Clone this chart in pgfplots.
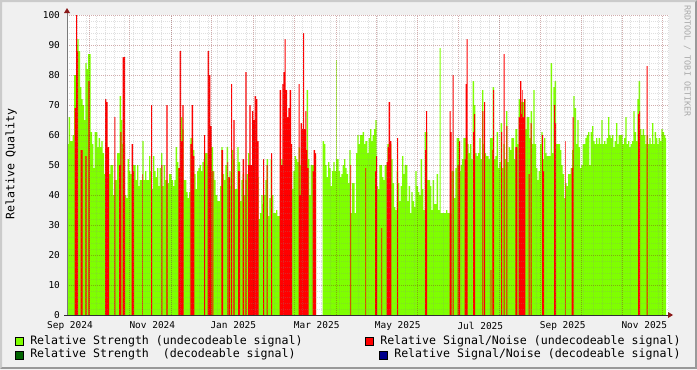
\documentclass[border=0pt]{standalone}
\usepackage{fontspec}
\setmainfont{DejaVu Sans Mono}
\usepackage{pgfplots}
\pgfplotsset{compat=1.18}
\definecolor{bgc}{HTML}{F0F0F0}
\definecolor{shadea}{HTML}{CBCBCB}
\definecolor{shadeb}{HTML}{999999}
\definecolor{sgreen}{HTML}{7FFF00}
\definecolor{sred}{HTML}{FF0000}
\definecolor{dgreen}{HTML}{006400}
\definecolor{dblue}{HTML}{00008B}
\definecolor{arrowc}{HTML}{8B1A1A}
\definecolor{axisl}{HTML}{7A7A7A}
\definecolor{axisb}{HTML}{303030}
\definecolor{mgrid}{RGB}{130,30,30}
\definecolor{ngrid}{RGB}{140,140,140}
\definecolor{wmc}{HTML}{AAAAAA}
\begin{document}
\begin{tikzpicture}
\begin{scope}[x=0.75pt,y=0.75pt]
\fill[bgc] (0,0) rectangle (697,369);
\fill[shadea] (0,369) -- (697,369) -- (695,367) -- (2,367) -- (2,2) -- (0,0) -- cycle;
\fill[shadeb] (697,369) -- (697,0) -- (0,0) -- (2,2) -- (695,2) -- (695,367) -- cycle;
\end{scope}
\begin{axis}[
  at={(50.25pt,40.5pt)}, anchor=south west, scale only axis,
  width=451.5pt, height=225pt,
  xmin=3, xmax=1809, ymin=0, ymax=100,
  axis on top,
  axis background/.style={fill=white},
  axis line style={draw=none},
  major tick length=0pt, minor tick length=0pt,
  xtick={12,259,502,752,995,1243,1490,1735},
  xticklabels={Sep 2024,Nov 2024,Jan 2025,Mar 2025,May 2025,Jul 2025,Sep 2025,Nov 2025},
  extra x ticks={69,191,316,436,562,684,810,932,1054,1177,1300,1424,1547,1669,1790},
  extra x tick labels={},
  extra x tick style={grid=major},
  minor xtick={5.87,34,...,1809},
  xminorgrids=true,
  ytick={0,10,...,100},
  minor y tick num=4,
  ymajorgrids=true, yminorgrids=true,
  major grid style={draw=mgrid, draw opacity=0.36, line width=0.75pt, dash pattern=on 0.75pt off 0.75pt},
  minor grid style={draw=ngrid, draw opacity=0.27, line width=0.75pt, dash pattern=on 0.75pt off 0.75pt},
  tick label style={font=\fontsize{7.1}{8}\selectfont, inner sep=0pt},
  yticklabel style={anchor=east, xshift=-5.1pt},
  xticklabel style={anchor=north, yshift=-5pt},
  /pgf/number format/assume math mode=true,
]
% Relative Strength (undecodeable) - part 1
\addplot[fill=sgreen, draw=none, const plot] coordinates {
(3,65) (4,57) (8,66) (12,58) (20,60) (24,80) (30,90) (34,92) (38,88) (42,76) (46,72) (50,70) (54,65) (58,84) (62,82) (66,87) (74,61) (78,57) (82,49) (86,61) (94,56) (98,59) (102,56) (106,58) (110,54) (114,47) (118,50) (129,47) (133,50) (141,40) (145,45) (153,54) (161,73) (165,65) (169,57) (177,40) (181,39) (185,52) (189,48) (193,47) (201,50) (209,45) (213,50) (217,43) (221,45) (229,58) (233,45) (237,48) (241,45) (249,53) (253,48) (257,42) (261,53) (265,48) (269,46) (273,49) (277,43) (281,49) (285,54) (289,43) (293,50) (297,45) (305,44) (309,47) (317,45) (321,43) (325,45) (329,56) (333,51) (337,49) (345,66) (349,62) (353,45) (361,41) (365,39) (369,41) (373,59) (381,55) (385,47) (389,42) (393,48) (397,49) (401,50) (405,48) (409,51) (413,52) (417,54) (425,50) (429,53) (433,56) (441,48) (445,45) (449,40) (454,38) (462,43) (466,56) (470,47) (474,45) (478,50) (482,56) (486,46) (490,48) (494,43) (498,55) (502,52) (506,42) (514,56) (518,51) (522,38) (526,45) (530,47) (534,40) (538,45) (542,47) (546,54) (550,50) (562,47) (566,50) (574,46) (578,32) (582,34) (586,40) (590,37) (594,40) (598,45) (602,52) (606,33) (610,39) (614,52) (618,40) (622,34) (630,35) (634,33) (642,33) (646,52) (650,48) (674,48) (678,42) (682,48) (686,53) (690,52) (694,51) (698,56) (702,50) (722,75) (726,52) (730,40) (734,50) (746,53) (750,53)
} \closedcycle;
% Relative Strength (undecodeable) - part 2
\addplot[fill=sgreen, draw=none, const plot] coordinates {
(770,58) (774,57) (778,50) (782,46) (786,51) (790,49) (794,43) (798,48) (802,51) (806,48) (810,85) (812,52) (818,48) (822,46) (826,47) (830,50) (834,52) (838,49) (842,47) (846,44) (850,55) (854,34) (858,44) (866,34) (870,54) (874,60) (878,57) (882,60) (890,61) (894,57) (898,58) (904,54) (908,59) (912,62) (916,58) (920,60) (924,62) (928,65) (932,43) (936,42) (940,50) (948,46) (952,45) (956,50) (964,57) (976,52) (980,44) (984,36) (988,35) (992,48) (996,44) (1000,38) (1004,43) (1008,53) (1012,47) (1016,50) (1024,38) (1028,43) (1032,34) (1036,41) (1040,38) (1044,36) (1048,48) (1052,43) (1056,41) (1060,40) (1064,52) (1068,42) (1072,35) (1076,61) (1084,45) (1092,43) (1096,35) (1100,45) (1104,37) (1112,47) (1116,35) (1120,34) (1121,89) (1124,34) (1140,35) (1144,34) (1156,48) (1164,39) (1168,49) (1172,59) (1180,48) (1184,50) (1188,52) (1192,59) (1196,59) (1204,57) (1208,54) (1212,57) (1216,52) (1220,78) (1224,70) (1228,54) (1232,53) (1236,54) (1240,59) (1244,52) (1248,75) (1252,57) (1256,54) (1260,53) (1268,52) (1272,59) (1280,76) (1284,52) (1288,53) (1292,61) (1296,49) (1300,51) (1304,64) (1308,49) (1312,57) (1316,52) (1320,68) (1324,51) (1328,56) (1332,55) (1336,59) (1344,52) (1348,62) (1354,57) (1358,72) (1366,71) (1374,72) (1378,62) (1382,66) (1390,59) (1394,68) (1398,57) (1402,75) (1406,57) (1410,49) (1414,45) (1418,48) (1422,57) (1426,61) (1430,52) (1434,59) (1438,54) (1442,53) (1454,84) (1458,54) (1462,76) (1466,78) (1470,57) (1482,55) (1486,50) (1490,47) (1494,39) (1498,44) (1502,43) (1506,47) (1514,49) (1518,55) (1522,73) (1526,69) (1530,57) (1534,65) (1538,56) (1542,49) (1546,50) (1550,57) (1558,59) (1562,60) (1566,61) (1570,50) (1574,61) (1578,63) (1582,58) (1586,57) (1590,59) (1594,57) (1598,59) (1602,57) (1606,65) (1610,57) (1614,58) (1618,57) (1622,59) (1626,66) (1630,60) (1634,59) (1638,60) (1642,56) (1646,58) (1650,64) (1654,57) (1658,60) (1670,57) (1674,59) (1678,66) (1682,57) (1686,58) (1690,56) (1694,57) (1698,58) (1702,68) (1706,61) (1710,58) (1714,72) (1718,78) (1722,62) (1726,60) (1730,62) (1734,60) (1738,57) (1742,60) (1746,57) (1750,59) (1754,57) (1758,64) (1762,57) (1766,61) (1770,59) (1774,57) (1778,59) (1782,58) (1786,62) (1790,61) (1794,60) (1798,59) (1800,59)
} \closedcycle;
% Relative Signal/Noise (undecodeable)
\addplot[fill=sred, draw=none, const plot] coordinates {
(3,0) (26,69) (30,100) (33,88) (36,0) (44,55) (50,0) (58,53) (62,0) (67,78) (71,0) (117,72) (121,71) (125,56) (129,0) (145,66) (148,0) (159,50) (163,61) (166,0) (170,86) (177,0) (197,57) (201,48) (204,0) (228,47) (230,0) (255,70) (258,0) (286,50) (289,0) (301,70) (305,0) (337,49) (341,88) (345,58) (349,70) (353,0) (373,57) (377,70) (381,53) (385,0) (414,60) (417,0) (425,88) (429,80) (433,63) (437,0) (439,48) (442,0) (466,55) (471,0) (484,51) (486,0) (488,46) (492,0) (495,77) (498,0) (502,65) (506,0) (516,48) (522,0) (530,52) (534,0) (538,81) (542,0) (546,50) (550,70) (554,50) (558,68) (562,65) (565,0) (566,73) (570,72) (574,58) (578,0) (591,52) (594,0) (602,50) (605,0) (615,54) (618,0) (641,75) (645,50) (648,0) (649,77) (652,81) (656,92) (659,75) (663,66) (667,69) (671,75) (675,57) (678,0) (698,77) (701,40) (704,64) (708,62) (711,94) (714,62) (718,68) (721,55) (724,49) (728,0) (740,48) (743,55) (747,54) (750,0) (853,50) (855,0) (898,49) (900,0) (927,48) (930,53) (933,0) (946,29) (948,0) (962,51) (965,56) (968,71) (972,58) (976,0) (993,59) (996,0) (1077,55) (1080,68) (1083,0) (1151,68) (1154,61) (1157,0) (1160,80) (1163,0) (1175,50) (1178,0) (1179,58) (1182,0) (1196,52) (1199,77) (1202,92) (1205,0) (1221,61) (1224,67) (1227,0) (1249,68) (1252,0) (1254,71) (1257,0) (1274,15) (1276,0) (1278,55) (1280,0) (1281,75) (1284,0) (1305,61) (1308,0) (1313,87) (1316,0) (1321,63) (1324,0) (1348,56) (1354,0) (1358,66) (1362,78) (1366,67) (1368,75) (1370,66) (1374,72) (1378,0) (1388,47) (1391,0) (1394,64) (1397,0) (1428,60) (1431,48) (1434,0) (1464,70) (1467,64) (1470,0) (1497,58) (1499,0) (1517,49) (1520,66) (1523,0) (1716,67) (1719,68) (1722,0) (1742,83) (1745,0) (1800,0)
} \closedcycle;
\end{axis}
\begin{scope}[x=0.75pt,y=0.75pt]
% axes and arrows
\draw[color=axisl, line width=0.75pt] (67,54) -- (67,356);
\fill[arrowc] (64,356) -- (70,356) -- (67,361) -- cycle;
\draw[color=axisb, line width=0.75pt] (64,54) -- (668,54);
\fill[arrowc] (668,51) -- (668,57) -- (673,54) -- cycle;
% y label
\node[rotate=90, anchor=base, inner sep=0pt, font=\fontsize{8.7}{10}\selectfont] at (14.3,205) {Relative Quality};
% watermark
\node[rotate=-90, anchor=base west, inner sep=0pt, text=wmc, font=\fontsize{6.3}{7}\selectfont] at (684.5,364) {RRDTOOL / TOBI OETIKER};
% legend
\filldraw[fill=sgreen, draw=black, line width=0.75pt] (15.5,23.5) rectangle (23.5,31.5);
\node[anchor=base west, inner sep=0pt, font=\fontsize{8.7}{10}\selectfont] at (30,24.7) {Relative Strength (undecodeable signal)};
\filldraw[fill=sred, draw=black, line width=0.75pt] (365.5,23.5) rectangle (373.5,31.5);
\node[anchor=base west, inner sep=0pt, font=\fontsize{8.7}{10}\selectfont] at (380,24.7) {Relative Signal/Noise (undecodeable signal)};
\filldraw[fill=dgreen, draw=black, line width=0.75pt] (15.5,10) rectangle (23.5,18);
\node[anchor=base west, inner sep=0pt, font=\fontsize{8.7}{10}\selectfont] at (30,11.3) {Relative Strength\ \ (decodeable signal)};
\filldraw[fill=dblue, draw=black, line width=0.75pt] (379.5,10) rectangle (387.5,18);
\node[anchor=base west, inner sep=0pt, font=\fontsize{8.7}{10}\selectfont] at (394,11.3) {Relative Signal/Noise (decodeable signal)};
\end{scope}
\end{tikzpicture}
\end{document}
